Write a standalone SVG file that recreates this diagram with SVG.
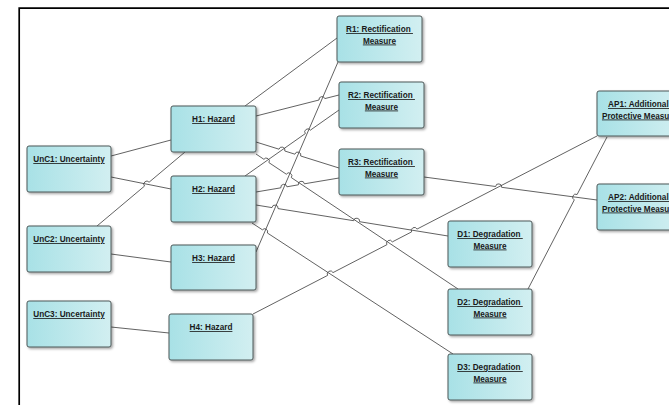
<svg xmlns="http://www.w3.org/2000/svg" width="669" height="405" viewBox="0 0 669 405">
  <defs>
    <linearGradient id="boxFill" x1="0" y1="0" x2="1" y2="0">
      <stop offset="0" stop-color="#a8e1e6"/>
      <stop offset="1" stop-color="#d2eff1"/>
    </linearGradient>
    <filter id="shadow" x="-10%" y="-10%" width="130%" height="130%">
      <feDropShadow dx="1.5" dy="1.5" stdDeviation="0.8" flood-color="#000" flood-opacity="0.35"/>
    </filter>
    <style>
      .box { fill: url(#boxFill); stroke: #4d5858; stroke-width: 1; filter: url(#shadow); }
      .lbl { font-family: "Liberation Sans", Arial, sans-serif; font-size: 8.2px; font-weight: bold; fill: #1a1a1a; text-anchor: middle; text-decoration: underline; white-space: pre; }
      .conn { fill: none; stroke: #3a3a3a; stroke-width: 0.8; }
      .frame { fill: none; stroke: #000; stroke-width: 1.7; }
    </style>
  </defs>

  <rect width="669" height="405" fill="#fff"/>
  <path class="frame" d="M19.2,405 V8.2 H669"/>

  <!-- connectors (line jumps drawn as small arcs at crossings) -->
  <g id="connectors" class="conn">
    <path d="M111,156 L171,140"/>
    <path d="M111,177 L171,189"/>
    <path d="M97,226 L144.5,186.1 A3,3 0 0 1 149.1,182.2 L185,152"/>
    <path d="M111,254 L171,262"/>
    <path d="M111,327 L169,333"/>
    <path d="M245,106 L337,38"/>
    <path d="M256,116 L319,100 A3,3 0 0 1 324.8,98.6 L339,95"/>
    <path d="M256,142 L279,149.2 A3,3 0 0 1 284.8,151 L294.9,154.2 A3,3 0 0 1 300.7,156 L339,168"/>
    <path d="M256,154 L263.9,159.3 A3,3 0 0 1 268.9,162.6 L286.3,174.2 A3,3 0 0 1 291.3,177.6 L458,289"/>
    <path d="M245,176 L305.3,133.6 A3,3 0 0 1 310.3,130.2 L339,110"/>
    <path d="M256,192 L280.9,187.8 A3,3 0 0 1 286.9,186.8 L298.4,184.8 A3,3 0 0 1 304.4,183.8 L339,178"/>
    <path d="M256,205 L272,207.6 A3,3 0 0 1 278,208.6 L353.6,220.7 A3,3 0 0 1 359.6,221.7 L448,236"/>
    <path d="M252,223 L262.4,229.8 A3,3 0 0 1 267.4,233 L453,354"/>
    <path d="M256,252 L338,62"/>
    <path d="M253,314 L327.6,275.4 A3,3 0 0 1 333,272.6 L386.9,244.7 A3,3 0 0 1 392.3,241.9 L411.6,231.9 A3,3 0 0 1 417,229.1 L597,136"/>
    <path d="M424,177 L495.6,186.5 A3,3 0 0 1 501.6,187.3 L597,200"/>
    <path d="M528,289 L574.3,199.9 A3,3 0 0 1 577.1,194.5 L607,137"/>
  </g>

  <!-- uncertainties -->
  <g id="unc1"><rect class="box" x="27" y="146" width="84" height="46" rx="2"/><text class="lbl" x="69" y="162">UnC1: Uncertainty</text></g>
  <g id="unc2"><rect class="box" x="27" y="226" width="84" height="46" rx="2"/><text class="lbl" x="69" y="242">UnC2: Uncertainty</text></g>
  <g id="unc3"><rect class="box" x="27" y="301" width="84" height="46" rx="2"/><text class="lbl" x="69" y="317">UnC3: Uncertainty</text></g>

  <!-- hazards -->
  <g id="h1"><rect class="box" x="171" y="106" width="85" height="46" rx="2"/><text class="lbl" x="213.5" y="122">H1: Hazard</text></g>
  <g id="h2"><rect class="box" x="171" y="176" width="85" height="46" rx="2"/><text class="lbl" x="213.5" y="192">H2: Hazard</text></g>
  <g id="h3"><rect class="box" x="171" y="245" width="85" height="45" rx="2"/><text class="lbl" x="213.5" y="261">H3: Hazard</text></g>
  <g id="h4"><rect class="box" x="169" y="314" width="84" height="46" rx="2"/><text class="lbl" x="211" y="330">H4: Hazard</text></g>

  <!-- rectification measures -->
  <g id="r1"><rect class="box" x="337" y="16" width="85" height="46" rx="2"/><text class="lbl" x="379.5" y="32">R1: Rectification </text><text class="lbl" x="379.5" y="43.5">Measure</text></g>
  <g id="r2"><rect class="box" x="339" y="82" width="85" height="46" rx="2"/><text class="lbl" x="381.5" y="98">R2: Rectification </text><text class="lbl" x="381.5" y="109.5">Measure</text></g>
  <g id="r3"><rect class="box" x="339" y="149" width="85" height="46" rx="2"/><text class="lbl" x="381.5" y="165">R3: Rectification </text><text class="lbl" x="381.5" y="176.5">Measure</text></g>

  <!-- degradation measures -->
  <g id="d1"><rect class="box" x="448" y="221" width="84" height="46" rx="2"/><text class="lbl" x="490" y="237">D1: Degradation </text><text class="lbl" x="490" y="248.5">Measure</text></g>
  <g id="d2"><rect class="box" x="448" y="289" width="84" height="46" rx="2"/><text class="lbl" x="490" y="305">D2: Degradation </text><text class="lbl" x="490" y="316.5">Measure</text></g>
  <g id="d3"><rect class="box" x="448" y="354" width="84" height="46" rx="2"/><text class="lbl" x="490" y="370">D3: Degradation </text><text class="lbl" x="490" y="381.5">Measure</text></g>

  <!-- additional protective measures -->
  <g id="ap1"><rect class="box" x="597" y="91" width="85" height="45" rx="2"/><text class="lbl" x="639.5" y="107">AP1: Additional </text><text class="lbl" x="639.5" y="118.5">Protective Measure</text></g>
  <g id="ap2"><rect class="box" x="597" y="184" width="85" height="46" rx="2"/><text class="lbl" x="639.5" y="200">AP2: Additional </text><text class="lbl" x="639.5" y="211.5">Protective Measure</text></g>
</svg>
